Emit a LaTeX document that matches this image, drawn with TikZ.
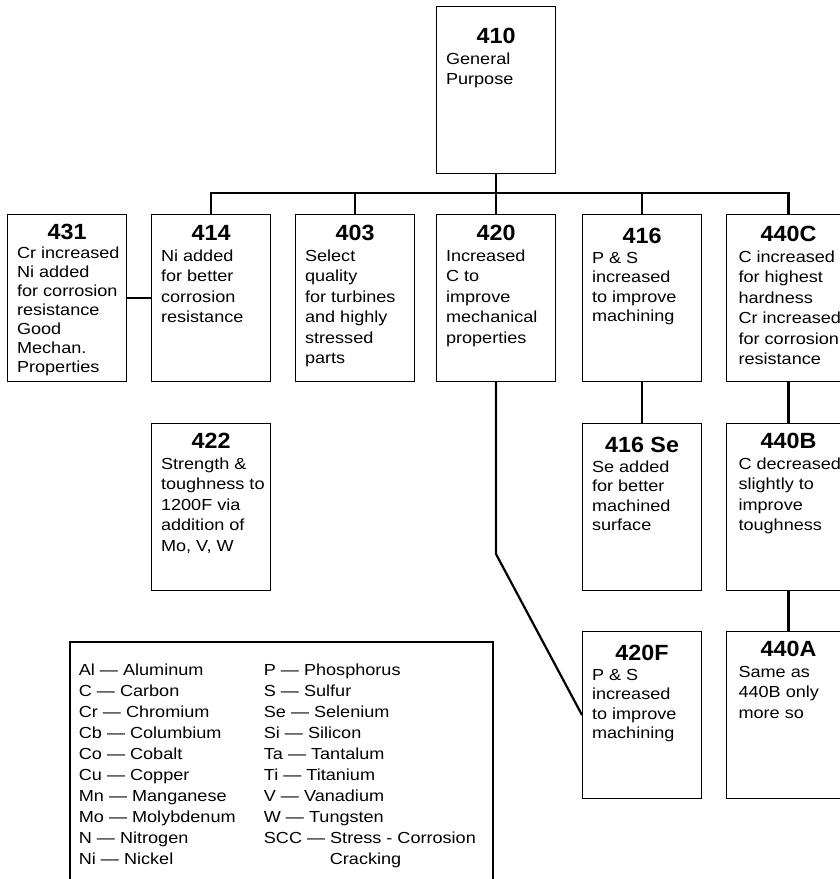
\documentclass[tikz,border=0pt]{standalone}
\usepackage{fontspec}
\setmainfont{Liberation Sans}[FakeStretch=1.13, BoldFeatures={FakeStretch=1.06}]
\usetikzlibrary{positioning}
\newcommand{\titlefont}{\bfseries\fontsize{22}{22}\selectfont}
\newcommand{\grade}[3][11pt]{\parbox[c][167pt][t]{100pt}{\vspace*{#1}\centering{\titlefont #2\par}%
    \raggedright\advance\rightskip by -14pt #3}}

\begin{document}
\begin{tikzpicture}
            [
                x=1pt, y=-1pt,
                grade/.style={draw, line width=1.1pt, anchor=north west, inner xsep=9.5pt, inner ysep=0pt,
                              minimum width=119pt, font=\fontsize{16}{20.5}\selectfont},
                wide/.style={minimum width=124pt},
                tight/.style={font=\fontsize{16}{19.5}\selectfont},
                link/.style={line width=2.2pt},
                legendbox/.style={draw, line width=1.8pt, anchor=north west, inner xsep=9pt, inner ysep=0pt,
                                  font=\fontsize{16}{21}\selectfont},
            ]
            \useasboundingbox (0,0) rectangle (840,879);
            % general purpose
            \node[grade] (g410) at (436,6) {\grade[22pt]{410}{General\\Purpose}};
            % first row
            \node[grade, font=\fontsize{16}{19}\selectfont] (g431) at (7,214)
                {\grade[10pt]{431}{Cr increased\\Ni added\\for corrosion\\resistance\\Good\\Mechan.\\Properties}};
            \node[grade] (g414) at (151,214) {\grade{414}{Ni added\\for better\\corrosion\\resistance}};
            \node[grade] (g403) at (295,214) {\grade{403}{Select\\quality\\for turbines\\and highly\\stressed\\parts}};
            \node[grade] (g420) at (436,214) {\grade{420}{Increased\\C to\\improve\\mechanical\\properties}};
            \node[grade, tight] (g416) at (582,214) {\grade[14pt]{416}{P \& S\\increased\\to improve\\machining}};
            \node[grade, wide] (g440C) at (726,214)
                {\grade[12pt]{440C}{C increased\\for highest\\hardness\\Cr increased\\for corrosion\\resistance}};
            % second row
            \node[grade] (g422) at (151,423) {\grade[10pt]{422}{Strength \&\\toughness to\\1200F via\\addition of\\Mo, V, W}};
            \node[grade, tight] (g416Se) at (582,423) {\grade[14pt]{416 Se}{Se added\\for better\\machined\\surface}};
            \node[grade, wide] (g440B) at (726,423) {\grade[10pt]{440B}{C decreased\\slightly to\\improve\\toughness}};
            % third row
            \node[grade, tight] (g420F) at (582,631) {\grade[14pt]{420F}{P \& S\\increased\\to improve\\machining}};
            \node[grade, wide] (g440A) at (726,631) {\grade[10pt]{440A}{Same as\\440B only\\more so}};
            % legend
            \node[legendbox] (legend) at (69,641) {\parbox[c][260pt][t]{405pt}{\vspace*{18.5pt}%
                \begin{tabular}{@{}p{185pt}@{}l@{}}
                    Al — Aluminum & P — Phosphorus\\
                    C — Carbon & S — Sulfur\\
                    Cr — Chromium & Se — Selenium\\
                    Cb — Columbium & Si — Silicon\\
                    Co — Cobalt & Ta — Tantalum\\
                    Cu — Copper & Ti — Titanium\\
                    Mn — Manganese & V — Vanadium\\
                    Mo — Molybdenum & W — Tungsten\\
                    N — Nitrogen & SCC — Stress - Corrosion\\
                    Ni — Nickel & \hspace{66pt}Cracking
                \end{tabular}}};
            % connections
            \coordinate (bus) at (494,193);
            \draw[link] (g410.south) -- (g420.north);
            \draw[link] (g414.north) |- (bus) -| (g440C.north);
            \draw[link] (g403.north) -- (g403.north |- bus);
            \draw[link] (g416.north) -- (g416.north |- bus);
            \draw[link] (g431.east) -- (g414.west);
            \draw[link] (g416.south) -- (g416Se.north);
            \draw[link] (g440C.south) -- (g440B.north);
            \draw[link] (g440B.south) -- (g440A.north);
            \draw[link] (g420.south) -- ++(0,172) -- (g420F.west);
        \end{tikzpicture}
\end{document}
